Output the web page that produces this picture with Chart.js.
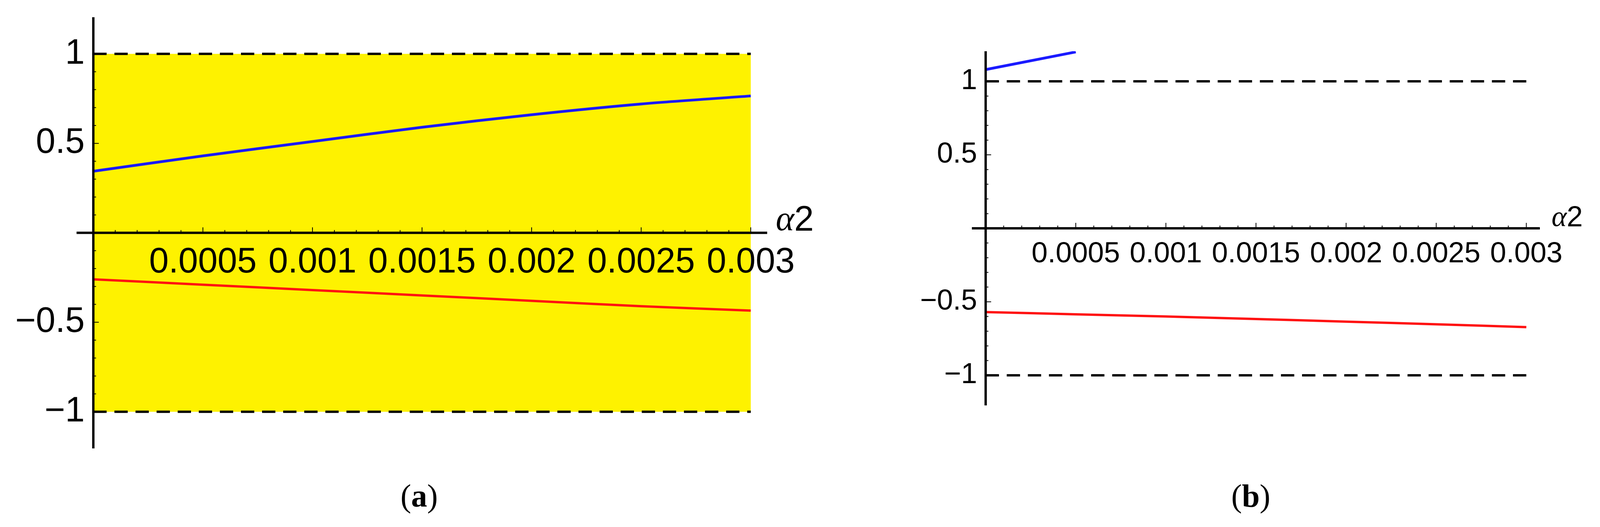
<!DOCTYPE html>
<html><head><meta charset="utf-8">
<script src="https://cdn.jsdelivr.net/npm/chart.js@4"></script>
<style>
body{margin:0;width:4190px;height:1348px;background:#fff;position:relative;overflow:hidden}
.w{position:absolute;top:0;height:1348px}
.cap{position:absolute;top:1222px;font-family:"Liberation Serif",serif;font-size:82px;transform:translateX(-50%)}
</style></head><body>
<div class="w" style="left:0;width:2150px"><canvas id="ca"></canvas></div>
<div class="w" style="left:2150px;width:2040px"><canvas id="cb"></canvas></div>
<div class="cap" style="left:1073px">(<b>a</b>)</div>
<div class="cap" style="left:3202px">(<b>b</b>)</div>
<script>
const xValues = [0, 0.0005, 0.001, 0.0015, 0.002, 0.0025, 0.003];
const xTickLabels = ["0.0005", "0.001", "0.0015", "0.002", "0.0025", "0.003"];
const xTickValues = [0.0005, 0.001, 0.0015, 0.002, 0.0025, 0.003];
const yTickValues = [1, 0.5, -0.5, -1];
const yTickLabels = ["1", "0.5", "\u22120.5", "\u22121"];
const boundUpper = [1, 1, 1, 1, 1, 1, 1];
const boundLower = [-1, -1, -1, -1, -1, -1, -1];
const aBlue = [0.344, 0.43, 0.51, 0.59, 0.66, 0.72, 0.765];
const aRed = [-0.26, -0.29, -0.32, -0.35, -0.38, -0.41, -0.435];
const bBlueX = [0, 0.0005];
const bBlue = [1.08, 1.2];
const bRed = [-0.57, -0.585, -0.60, -0.617, -0.635, -0.653, -0.672];

const pts = (xs, ys) => xs.map((x, i) => ({x, y: ys[i]}));

function axesPlugin(fontPx, labelGap, alphaDx, alphaDy) {
  return {
    id: 'axes',
    afterDatasetsDraw(chart) {
      const {ctx, scales: {x, y}} = chart;
      const x0 = x.getPixelForValue(0), y0 = y.getPixelForValue(0);
      ctx.save();
      ctx.strokeStyle = '#000'; ctx.lineWidth = 6;
      ctx.beginPath();
      ctx.moveTo(x.left, y0); ctx.lineTo(x.right, y0);
      ctx.moveTo(x0, y.top); ctx.lineTo(x0, y.bottom);
      ctx.stroke();
      ctx.lineWidth = 2;
      ctx.beginPath();
      for (let k = 1; k <= 30; k++) {
        const px = x.getPixelForValue(k * 0.0001);
        const len = k % 5 === 0 ? 14 : 7;
        ctx.moveTo(px, y0); ctx.lineTo(px, y0 - len);
      }
      for (let k = -10; k <= 10; k++) {
        if (k === 0) continue;
        const py = y.getPixelForValue(k * 0.1);
        const len = k % 5 === 0 ? 14 : 7;
        ctx.moveTo(x0, py); ctx.lineTo(x0 + len, py);
      }
      ctx.stroke();
      ctx.fillStyle = '#000';
      ctx.font = fontPx + 'px "Liberation Sans", Arial, sans-serif';
      ctx.textAlign = 'center'; ctx.textBaseline = 'top';
      xTickValues.forEach((v, i) => ctx.fillText(xTickLabels[i], x.getPixelForValue(v), y0 + labelGap));
      ctx.textAlign = 'right'; ctx.textBaseline = 'middle';
      yTickValues.forEach((v, i) => ctx.fillText(yTickLabels[i], x0 - 22, y.getPixelForValue(v)));
      ctx.textAlign = 'left'; ctx.textBaseline = 'middle';
      ctx.font = 'italic ' + fontPx + 'px "Liberation Serif", serif';
      ctx.fillText('\u03b1', x.right + alphaDx, y0 + alphaDy);
      const w = ctx.measureText('\u03b1').width;
      ctx.font = fontPx + 'px "Liberation Sans", Arial, sans-serif';
      ctx.fillText('2', x.right + alphaDx + w, y0 + alphaDy);
      ctx.restore();
    }
  };
}

function makeChart(id, datasets, pad, fontPx, gap, adx, ady) {
  return new Chart(document.getElementById(id), {
    type: 'line',
    data: {datasets},
    options: {
      responsive: true, maintainAspectRatio: false, animation: false,
      layout: {padding: pad},
      plugins: {legend: {display: false}, tooltip: {enabled: false}, filler: {drawTime: 'beforeDatasetsDraw'}},
      elements: {point: {radius: 0}, line: {tension: 0.3}},
      scales: {
        x: {type: 'linear', min: -0.0000765, max: 0.003075, display: false},
        y: {min: -1.205, max: 1.205, display: false}
      }
    },
    plugins: [axesPlugin(fontPx, gap, adx, ady)]
  });
}

const dashed = {borderColor: '#000', borderWidth: 6, borderDash: [34, 20], tension: 0, order: 2};

makeChart('ca', [
  {data: pts(xValues, boundUpper), ...dashed, fill: '+1', backgroundColor: '#fef200'},
  {data: pts(xValues, boundLower), ...dashed, fill: false},
  {data: pts(xValues, aBlue), borderColor: '#1a1aff', borderWidth: 7, fill: false, order: 1},
  {data: pts(xValues, aRed), borderColor: '#ff1010', borderWidth: 6, fill: false, order: 1}
], {left: 196, right: 186, top: 44, bottom: 201}, 90, 32, 22, -30);

makeChart('cb', [
  {data: pts(xValues, boundUpper), ...dashed, fill: false},
  {data: pts(xValues, boundLower), ...dashed, fill: false},
  {data: pts(bBlueX, bBlue), borderColor: '#1a1aff', borderWidth: 7, fill: false, tension: 0, order: 1},
  {data: pts(xValues, bRed), borderColor: '#ff1010', borderWidth: 6, fill: false, order: 1}
], {left: 338, right: 248, top: 131, bottom: 311}, 74, 30, 30, -25);
</script>
</body></html>
